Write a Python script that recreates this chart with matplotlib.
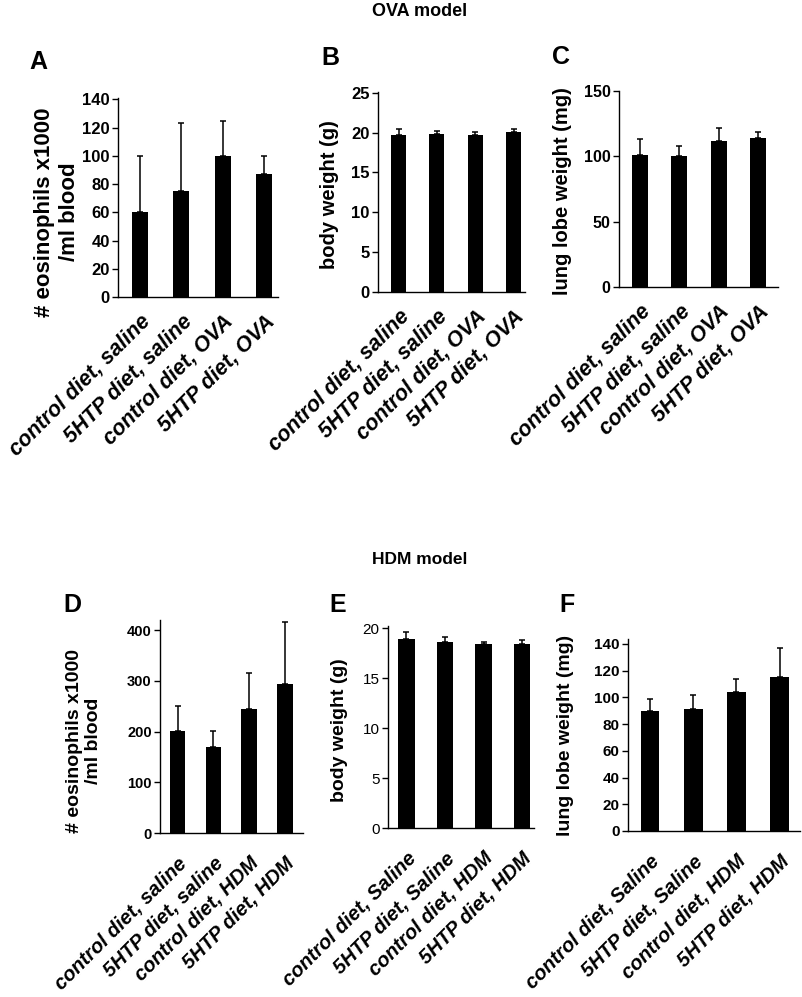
import matplotlib
matplotlib.use('Agg')
import matplotlib.pyplot as plt

plt.rcParams['font.family'] = ['Liberation Sans', 'DejaVu Sans']

# ---- data ----
ova_groups = ['control diet, saline', '5HTP diet, saline', 'control diet, OVA', '5HTP diet, OVA']
hdm_groups_d = ['control diet, saline', '5HTP diet, saline', 'control diet, HDM', '5HTP diet, HDM']
hdm_groups_ef = ['control diet, Saline', '5HTP diet, Saline', 'control diet, HDM', '5HTP diet, HDM']

eos_ova = [60, 75, 100, 87]
eos_ova_err = [40, 48, 25, 13]
bw_ova = [19.7, 19.8, 19.7, 20.1]
bw_ova_err = [0.8, 0.4, 0.4, 0.3]
lung_ova = [101, 100, 112, 114]
lung_ova_err = [12, 8, 10, 5]

eos_hdm = [201, 170, 244, 293]
eos_hdm_err = [50, 31, 72, 124]
bw_hdm = [18.9, 18.6, 18.4, 18.4]
bw_hdm_err = [0.7, 0.5, 0.2, 0.4]
lung_hdm = [90, 91, 104, 115]
lung_hdm_err = [9, 11, 10, 22]

W, H = 803, 997
fig = plt.figure(figsize=(W / 100, H / 100), dpi=100)


def px_axes(x0, x1, ytop, ybot):
    return fig.add_axes([x0 / W, 1 - ybot / H, (x1 - x0) / W, (ybot - ytop) / H])


def panel(box, vals, errs, labels, ylim, yticks, xlim, width,
          tick_size, tick_weight, label_size, pad):
    ax = px_axes(*box)
    x = range(len(vals))
    ax.bar(x, vals, width=width, color='black',
           yerr=[[0] * len(errs), errs], capsize=2.2,
           error_kw=dict(elinewidth=1.1, capthick=1.1, ecolor='black'))
    ax.set_ylim(*ylim)
    ax.set_xlim(*xlim)
    ax.set_yticks(yticks)
    ax.spines['top'].set_visible(False)
    ax.spines['right'].set_visible(False)
    for s in ('left', 'bottom'):
        ax.spines[s].set_linewidth(1.0)
    ax.tick_params(axis='y', direction='out', length=4, width=1.0, pad=2)
    for t in ax.get_yticklabels():
        t.set_fontsize(tick_size)
        t.set_fontweight(tick_weight)
    ax.set_xticks(list(x))
    ax.set_xticklabels(labels, rotation=45, ha='right', va='top',
                       rotation_mode='anchor', fontsize=label_size,
                       fontweight='bold', fontstyle='italic')
    ax.tick_params(axis='x', length=0, pad=pad)
    return ax


def ftext(x, y, s, **kw):
    fig.text(x / W, 1 - y / H, s, **kw)


# ---- OVA model ----
panel((118, 278, 98, 297), eos_ova, eos_ova_err, ova_groups, (0, 141),
      range(0, 141, 20), (-0.53, 3.34), 0.39, 12, 'bold', 15.5, 10)
panel((378, 525, 92, 292), bw_ova, bw_ova_err, ova_groups, (0, 25.1),
      range(0, 26, 5), (-0.54, 3.3), 0.39, 12, 'bold', 15.5, 10)
panel((619, 778, 91, 287), lung_ova, lung_ova_err, ova_groups, (0, 150),
      range(0, 151, 50), (-0.53, 3.51), 0.41, 11.5, 'bold', 15.5, 10)

# ---- HDM model ----
panel((160, 303, 620, 833), eos_hdm, eos_hdm_err, hdm_groups_d, (0, 420),
      range(0, 401, 100), (-0.49, 3.5), 0.44, 10.5, 'bold', 14.5, 15)
panel((388, 534, 626, 828), bw_hdm, bw_hdm_err, hdm_groups_ef, (0, 20.2),
      range(0, 21, 5), (-0.48, 3.31), 0.43, 11, 'normal', 14.5, 15)
panel((628, 800, 639, 831), lung_hdm, lung_hdm_err, hdm_groups_ef, (0, 143.7),
      range(0, 141, 20), (-0.51, 3.47), 0.43, 11, 'bold', 14.5, 15)

# ---- y labels ----
ylab = dict(rotation=90, ha='center', va='center', fontweight='bold',
            multialignment='center')
ftext(57, 212, '# eosinophils x1000\n/ml blood', fontsize=16, **ylab)
ftext(330, 195, 'body weight (g)', fontsize=14.5, **ylab)
ftext(563, 191, 'lung lobe weight (mg)', fontsize=14.5, **ylab)
ftext(84, 741, '# eosinophils x1000\n/ml blood', fontsize=14, **ylab)
ftext(340, 730, 'body weight (g)', fontsize=14, **ylab)
ftext(566, 735, 'lung lobe weight (mg)', fontsize=14, **ylab)

# ---- panel letters and titles ----
let = dict(ha='center', va='center', fontweight='bold', fontsize=18)
ftext(38, 62, 'A', **let)
ftext(330, 58, 'B', **let)
ftext(561, 57, 'C', **let)
ftext(72, 605, 'D', **let)
ftext(338, 605, 'E', **let)
ftext(567, 605, 'F', **let)

ftext(420, 12, 'OVA model', ha='center', va='center', fontweight='bold', fontsize=13)
ftext(420, 560, 'HDM model', ha='center', va='center', fontweight='bold', fontsize=12.5)

fig.savefig('out.png', dpi=100)
